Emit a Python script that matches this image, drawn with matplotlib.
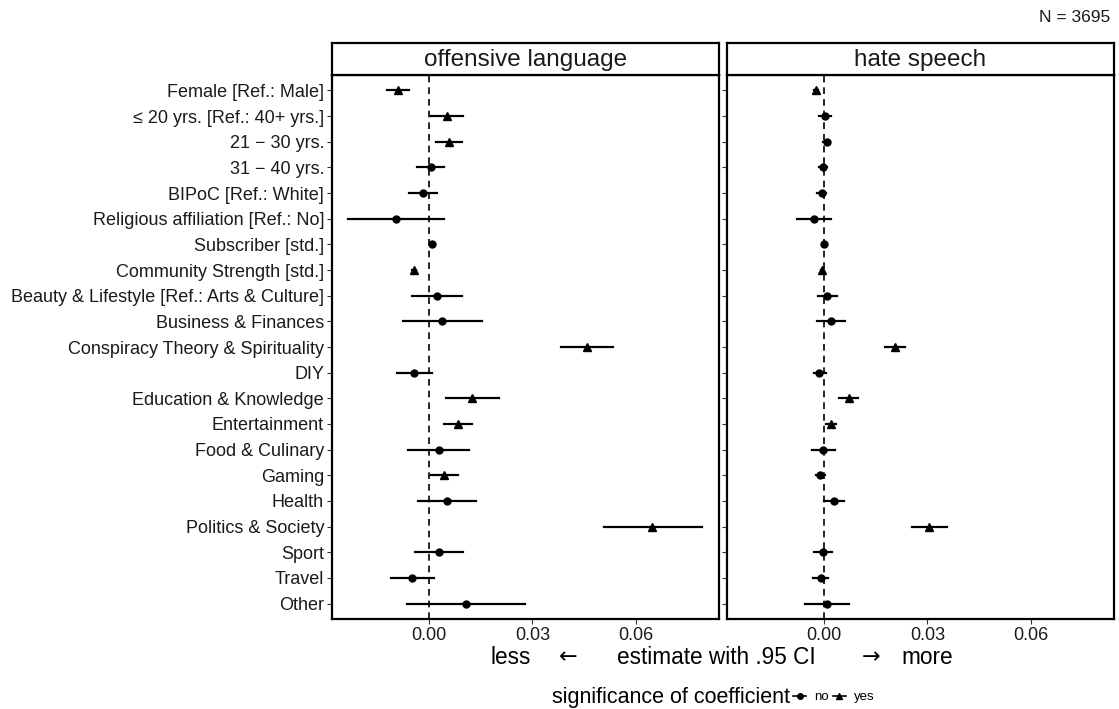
import matplotlib
matplotlib.use("Agg")
import matplotlib.pyplot as plt
from matplotlib.lines import Line2D

plt.rcParams['font.family'] = ['Liberation Sans', 'DejaVu Sans']

# predictors, top to bottom
labels = ["Female [Ref.: Male]", "\u2264 20 yrs. [Ref.: 40+ yrs.]", "21 \u2212 30 yrs.",
          "31 \u2212 40 yrs.", "BIPoC [Ref.: White]", "Religious affiliation [Ref.: No]",
          "Subscriber [std.]", "Community Strength [std.]",
          "Beauty & Lifestyle [Ref.: Arts & Culture]", "Business & Finances",
          "Conspiracy Theory & Spirituality", "DIY", "Education & Knowledge",
          "Entertainment", "Food & Culinary", "Gaming", "Health", "Politics & Society",
          "Sport", "Travel", "Other"]

# offensive language
off_est = [-0.0090, 0.0051, 0.0059, 0.0005, -0.0017, -0.0095, 0.0008, -0.0044, 0.0024, 0.0039,
           0.0457, -0.0043, 0.0126, 0.0084, 0.0028, 0.0044, 0.0052, 0.0648, 0.0028, -0.0048, 0.0107]
off_lo = [-0.0123, 0.0006, 0.0020, -0.0034, -0.0058, -0.0234, 0.0005, -0.0050, -0.0049, -0.0074,
          0.0382, -0.0092, 0.0049, 0.0045, -0.0060, 0.0006, -0.0032, 0.0507, -0.0040, -0.0110, -0.0065]
off_hi = [-0.0057, 0.0098, 0.0097, 0.0043, 0.0022, 0.0043, 0.0011, -0.0038, 0.0097, 0.0153,
          0.0535, 0.0008, 0.0202, 0.0125, 0.0117, 0.0083, 0.0137, 0.0793, 0.0100, 0.0015, 0.0279]
off_sig = [1, 1, 1, 0, 0, 0, 0, 1, 0, 0, 1, 0, 1, 1, 0, 1, 0, 1, 0, 0, 0]

# hate speech
hate_est = [-0.0022, 0.0003, 0.0008, -0.0003, -0.0007, -0.0029, -0.0001, -0.0006, 0.0009, 0.0020,
            0.0205, -0.0015, 0.0073, 0.0020, -0.0003, -0.0012, 0.0028, 0.0305, -0.0003, -0.0010, 0.0009]
hate_lo = [-0.0028, -0.0014, -0.0003, -0.0015, -0.0021, -0.0079, -0.0004, -0.0010, -0.0016, -0.0021,
           0.0177, -0.0030, 0.0044, 0.0006, -0.0035, -0.0023, 0.0000, 0.0255, -0.0028, -0.0033, -0.0054]
hate_hi = [-0.0016, 0.0021, 0.0018, 0.0009, 0.0006, 0.0021, 0.0002, -0.0002, 0.0037, 0.0062,
           0.0234, 0.0006, 0.0100, 0.0035, 0.0031, 0.0002, 0.0059, 0.0358, 0.0024, 0.0013, 0.0072]
hate_sig = [1, 0, 0, 0, 0, 0, 0, 1, 0, 0, 1, 0, 1, 1, 0, 0, 0, 1, 0, 0, 0]

panels = [("offensive language", off_est, off_lo, off_hi, off_sig),
          ("hate speech", hate_est, hate_lo, hate_hi, hate_sig)]

fig = plt.figure(figsize=(11.19, 7.09), dpi=100)
W, H = 1119, 709
lefts = [331.7, 726.7]
pw = 387.3
top, bottom = 75, 619
strip_top = 43

n = len(labels)
ypos = list(range(n))
for k, (title, est, lo, hi, sig) in enumerate(panels):
    ax = fig.add_axes([lefts[k] / W, 1 - bottom / H, pw / W, (bottom - top) / H])
    ax.axvline(0, color="black", linestyle=(0, (4, 3)), linewidth=1.2, zorder=1)
    for i in ypos:
        ax.plot([lo[i], hi[i]], [i, i], color="black", linewidth=1.6, zorder=2)
        ax.plot(est[i], i, marker="^" if sig[i] else "o", color="black",
                markersize=6 if sig[i] else 5, zorder=3)
    ax.set_xlim(-0.0282, 0.0841)
    ax.set_ylim(n - 0.4, -0.6)
    ax.set_xticks([0.0, 0.03, 0.06])
    ax.set_xticklabels(["0.00", "0.03", "0.06"])
    ax.set_yticks(ypos)
    if k == 0:
        ax.set_yticklabels(labels)
    else:
        ax.set_yticklabels([])
        ax.tick_params(axis="y", length=0)
    ax.tick_params(axis="both", labelsize=13, colors="#333333", labelcolor="#1a1a1a",
                   length=3.5, width=0.8, pad=2)
    for sp in ax.spines.values():
        sp.set_linewidth(1.6)
        sp.set_color("black")
    # facet strip
    sax = fig.add_axes([lefts[k] / W, 1 - top / H, pw / W, (top - strip_top) / H])
    sax.set_xticks([])
    sax.set_yticks([])
    for sp in sax.spines.values():
        sp.set_linewidth(1.6)
        sp.set_color("black")
    sax.text(0.5, 0.47, title, ha="center", va="center", fontsize=17.5, color="#1a1a1a",
             transform=sax.transAxes)

fig.text(1110 / W, 1 - 17 / H, "N = 3695", ha="right", va="center", fontsize=12.5, color="#1a1a1a")

# x axis title with arrows
ty = 1 - 657 / H
fig.text(511 / W, ty, "less", ha="center", va="center", fontsize=16.3)
fig.text(568 / W, ty, "\u2190", ha="center", va="center", fontsize=16, family="DejaVu Sans")
fig.text(716 / W, ty, "estimate with .95 CI", ha="center", va="center", fontsize=16.3)
fig.text(871 / W, ty, "\u2192", ha="center", va="center", fontsize=16, family="DejaVu Sans")
fig.text(927 / W, ty, "more", ha="center", va="center", fontsize=16.3)

fig.text(790 / W, 1 - 697 / H, "significance of coefficient", ha="right", va="center",
         fontsize=15.5, color="black")
handles = [Line2D([], [], color="black", marker="o", markersize=4, linewidth=1.2),
           Line2D([], [], color="black", marker="^", markersize=4.5, linewidth=1.2)]
fig.legend(handles, ["no", "yes"], loc="center left", bbox_to_anchor=(793 / W, 1 - 697 / H),
           ncol=2, frameon=False, fontsize=9.5, handlelength=1.0, handletextpad=0.6,
           columnspacing=0.3, borderpad=0, borderaxespad=0)

fig.savefig("out.png", dpi=100)
